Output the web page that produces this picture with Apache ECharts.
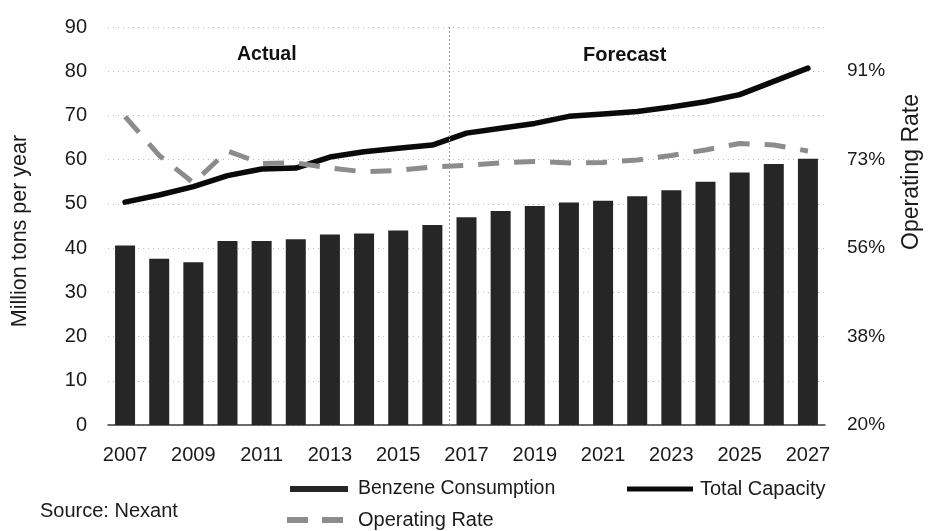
<!DOCTYPE html>
<html>
<head>
<meta charset="utf-8">
<script src="https://cdn.jsdelivr.net/npm/echarts@6/dist/echarts.min.js"></script>
<style>
  html, body { margin: 0; padding: 0; background: #fff; }
  #chart { width: 932px; height: 531px; }
</style>
</head>
<body>
<div id="chart"></div>
<script>
// Years on the category axis
const years = ['2007','2008','2009','2010','2011','2012','2013','2014','2015','2016','2017',
               '2018','2019','2020','2021','2022','2023','2024','2025','2026','2027'];

// Benzene consumption, million tons per year
const consumption = [40.6, 37.6, 36.8, 41.6, 41.6, 42.0, 43.1, 43.3, 44.0, 45.2, 47.0,
                     48.4, 49.5, 50.3, 50.7, 51.7, 53.1, 55.0, 57.1, 59.0, 60.2];

// Total capacity, million tons per year
const capacity = [50.4, 52.0, 53.9, 56.4, 57.9, 58.1, 60.6, 61.8, 62.6, 63.3, 66.0,
                  67.1, 68.2, 69.8, 70.3, 70.9, 71.9, 73.1, 74.7, 77.7, 80.7];

// Operating rate, percent (right axis)
const operatingRate = [81.9, 74.1, 68.6, 75.0, 72.5, 72.6, 71.6, 70.8, 71.1, 71.8, 72.1,
                       72.6, 72.9, 72.6, 72.7, 73.2, 74.1, 75.2, 76.5, 76.2, 75.0];

// Right-axis tick values (percent) and range
const rateTicks = [20, 37.75, 55.5, 73.25, 91];
const rateMin = 20;
const rateMax = 99.875;

const FONT = "'Liberation Sans', Arial, sans-serif";
const TXT = '#1a1a1a';
// Divider between actual and forecast years: the boundary just before 2017,
// placed on a hidden continuous axis that spans the same category bands
const dividerPos = years.indexOf('2017') - 0.5;

const chart = echarts.init(document.getElementById('chart'), null, { renderer: 'canvas' });

chart.setOption({
  backgroundColor: '#ffffff',
  animation: false,
  textStyle: { fontFamily: FONT, color: TXT },
  grid: { left: 108, right: 107, top: 27, bottom: 106, containLabel: false },
  xAxis: [
    {
      type: 'category',
      data: years,
      boundaryGap: true,
      axisLine: { show: true, lineStyle: { color: '#3a3a3a', width: 1.5 } },
      axisTick: { show: false },
      axisLabel: { interval: 1, margin: 20, fontSize: 20, color: TXT, fontFamily: FONT },
      splitLine: { show: false }
    },
    {
      type: 'value', min: -0.5, max: years.length - 0.5, show: false,
      splitLine: { show: false }
    }
  ],
  yAxis: [
    {
      type: 'value', min: 0, max: 90, interval: 10,
      axisLine: { show: false }, axisTick: { show: false },
      axisLabel: { margin: 21, fontSize: 20, color: TXT, fontFamily: FONT },
      splitLine: { show: true, lineStyle: { color: '#bdbdbd', type: [1, 4], width: 1 } }
    },
    {
      type: 'value', min: rateMin, max: rateMax, position: 'right',
      axisLine: { show: false }, axisTick: { show: false },
      axisLabel: {
        customValues: rateTicks, margin: 22, fontSize: 19, color: TXT, fontFamily: FONT,
        formatter: (v) => Math.round(v) + '%'
      },
      splitLine: { show: false }
    }
  ],
  legend: [
    {
      data: [{ name: 'Benzene Consumption', icon: 'rect' }], left: 285, top: 474,
      itemWidth: 58, itemHeight: 6,
      textStyle: { fontSize: 19.5, fontFamily: FONT, color: TXT, padding: [0, 0, 0, 5] }
    },
    {
      data: [{ name: 'Total Capacity', icon: 'rect' }], left: 622, top: 474,
      itemWidth: 66, itemHeight: 5,
      textStyle: { fontSize: 20, fontFamily: FONT, color: TXT, padding: [0, 0, 0, 2] }
    },
    {
      data: [{ name: 'Operating Rate', icon: 'path://M0,0h21v6h-21zM35,0h21v6h-21z' }],
      left: 282, top: 505, itemWidth: 56, itemHeight: 6,
      textStyle: { fontSize: 20, fontFamily: FONT, color: TXT, padding: [0, 0, 0, 10] }
    }
  ],
  graphic: [
    { type: 'text', left: 237, top: 45, style: { text: 'Actual', font: "bold 19.5px " + FONT, fill: '#111' } },
    { type: 'text', left: 583, top: 45, style: { text: 'Forecast', font: "bold 20px " + FONT, fill: '#111' } },
    { type: 'text', x: 9, y: 231, rotation: Math.PI / 2,
      style: { text: 'Million tons per year', font: "21.5px " + FONT, fill: TXT, align: 'center', verticalAlign: 'top' } },
    { type: 'text', x: 900, y: 172, rotation: Math.PI / 2,
      style: { text: 'Operating Rate', font: "23px " + FONT, fill: TXT, align: 'center', verticalAlign: 'top' } },
    { type: 'text', left: 40, top: 501, style: { text: 'Source: Nexant', font: "20px " + FONT, fill: TXT } }
  ],
  series: [
    {
      name: 'Benzene Consumption', type: 'bar', data: consumption, barWidth: 20,
      itemStyle: { color: '#262626' }
    },
    {
      name: 'Total Capacity', type: 'line', data: capacity, symbol: 'none',
      lineStyle: { color: '#0a0a0a', width: 5.5, cap: 'round', join: 'round' },
      itemStyle: { color: '#0a0a0a' }
    },
    {
      name: 'Operating Rate', type: 'line', yAxisIndex: 1, data: operatingRate, symbol: 'none',
      lineStyle: { color: '#8c8c8c', width: 5, type: [21, 15] },
      itemStyle: { color: '#8c8c8c' }
    },
    {
      name: 'divider', type: 'line', xAxisIndex: 1, yAxisIndex: 0, data: [],
      symbol: 'none', silent: true,
      markLine: {
        silent: true, symbol: 'none', label: { show: false },
        lineStyle: { color: '#9a9a9a', type: [2, 2], width: 1 },
        data: [{ xAxis: dividerPos }]
      }
    }
  ]
});
</script>
</body>
</html>
